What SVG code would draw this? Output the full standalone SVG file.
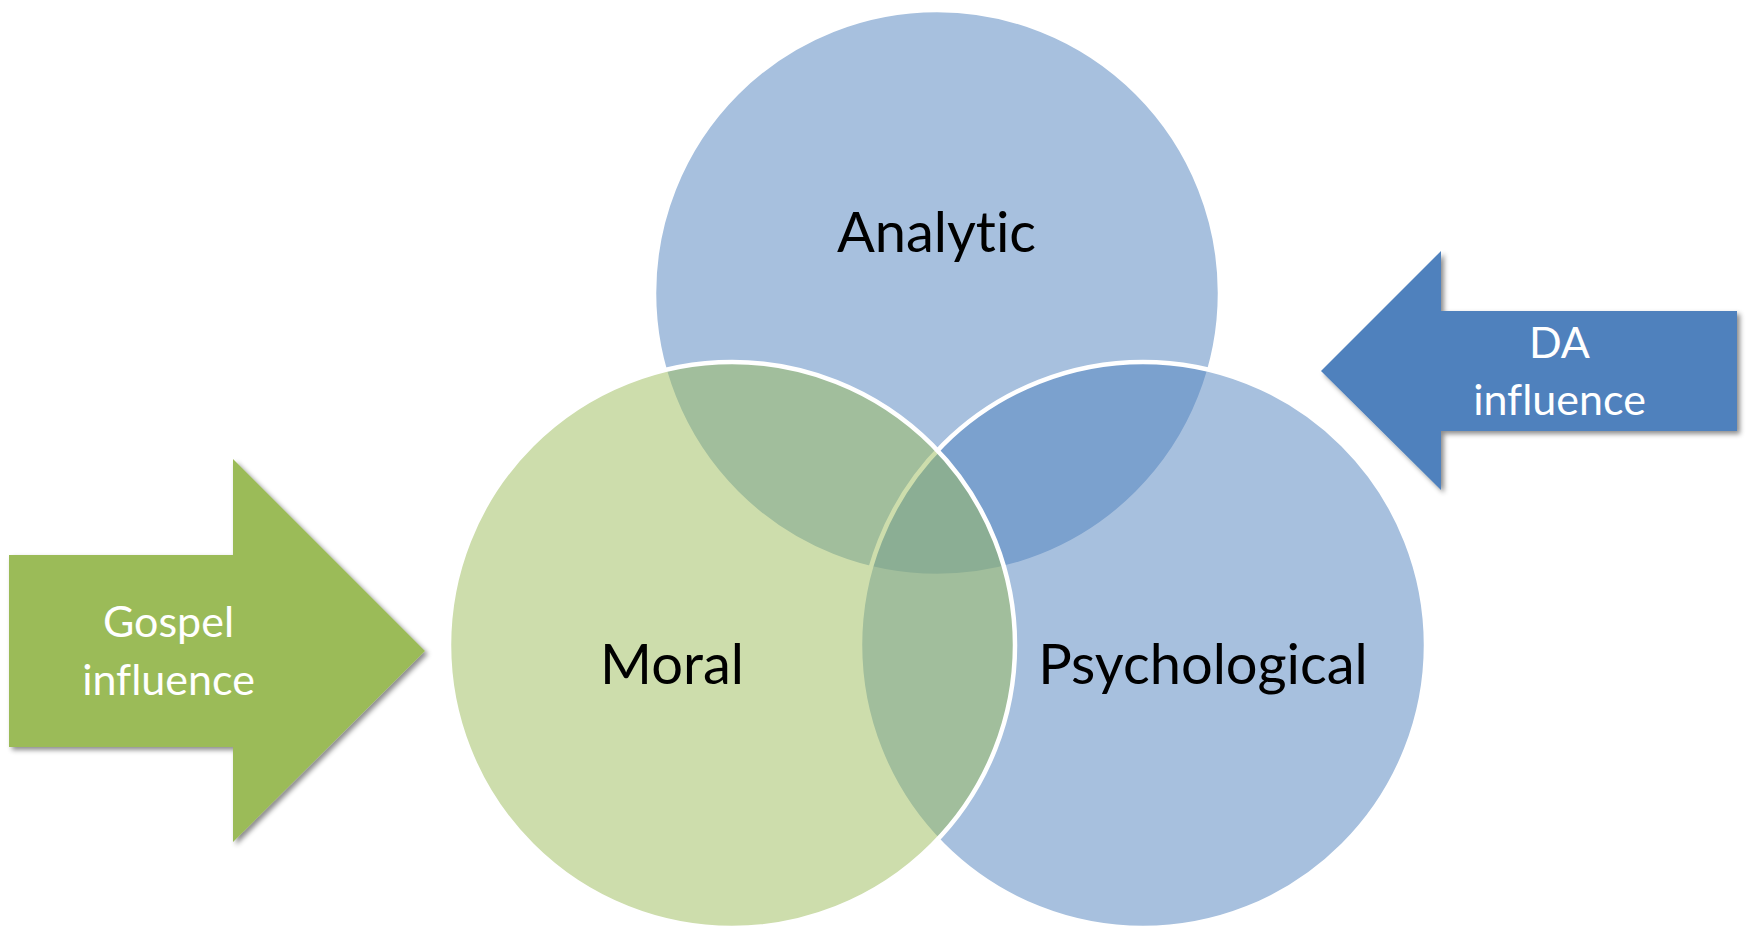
<svg xmlns="http://www.w3.org/2000/svg" width="1748" height="930" viewBox="0 0 1748 930">
<defs>
<filter id="shadow" x="-10%" y="-10%" width="130%" height="130%">
<feDropShadow dx="3" dy="3" stdDeviation="2.5" flood-color="#000" flood-opacity="0.45"/>
</filter>
<style>
.circ { stroke: #fff; stroke-width: 4.5; fill-opacity: 0.5; }
.blue { fill: #4F81BD; }
.green { fill: #9BBB59; }
.big { font-family: Lato, "Liberation Sans", sans-serif; font-size: 56px; fill: #000; text-anchor: middle; font-variant-ligatures: none; }
.small { font-family: Lato, "Liberation Sans", sans-serif; font-size: 43px; fill: #fff; text-anchor: middle; font-variant-ligatures: none; }
</style>
</defs>
<rect width="1748" height="930" fill="#fff"/>
<g id="analytic">
<circle class="circ blue" cx="937" cy="293" r="283"/>
</g>
<g id="psychological">
<circle class="circ blue" cx="1143" cy="645" r="283"/>
</g>
<g id="moral">
<circle class="circ green" cx="732" cy="645" r="283"/>
</g>
<g id="labels">
<text class="big" x="936.5" y="252">Analytic</text>
<text class="big" x="672" y="684">Moral</text>
<text class="big" x="1203" y="684">Psychological</text>
</g>
<g id="gospel-influence">
<path d="M9,555 L233,555 L233,459 L425,651 L233,842 L233,747 L9,747 Z" fill="#9BBB59" filter="url(#shadow)"/>
<text class="small" x="168.5" y="637">Gospel</text>
<text class="small" x="168.5" y="695">influence</text>
</g>
<g id="da-influence">
<path d="M1737,311 L1441,311 L1441,251 L1321,371 L1441,490 L1441,431 L1737,431 Z" fill="#4F81BD" filter="url(#shadow)"/>
<text class="small" x="1559.5" y="358">DA</text>
<text class="small" x="1559.5" y="415">influence</text>
</g>
<g id="connectors"/>
</svg>
